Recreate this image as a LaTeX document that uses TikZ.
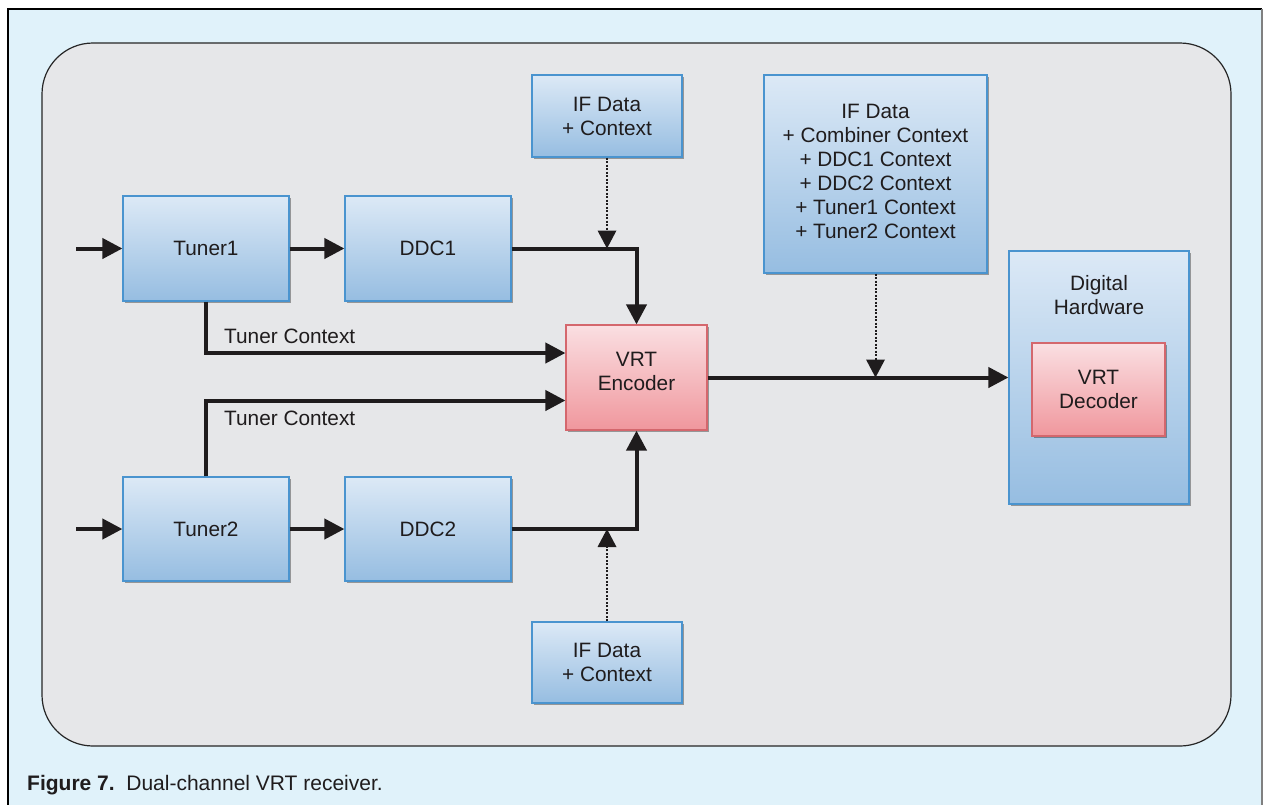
\documentclass[tikz,border=0pt]{standalone}
\usepackage{fontspec}
\setmainfont{Liberation Sans}
\usetikzlibrary{arrows.meta,shadows,calc}
\definecolor{bgblue}{HTML}{E0F2FA}
\definecolor{innergray}{HTML}{E6E7E9}
\definecolor{btop}{HTML}{DCE9F6}
\definecolor{bbot}{HTML}{96BDE1}
\definecolor{bborder}{HTML}{4A94CF}
\definecolor{rtop}{HTML}{FADFE2}
\definecolor{rbot}{HTML}{F0979D}
\definecolor{rborder}{HTML}{D4676D}
\definecolor{ink}{HTML}{1F1C1D}
\tikzset{
  txt/.style={font=\fontsize{20.8}{24}\selectfont, text=ink},
  bluebox/.style={draw=bborder, line width=1.2pt, top color=btop, bottom color=bbot,
    inner sep=0pt, align=center, txt,
    drop shadow={shadow xshift=1.5pt, shadow yshift=-2pt, opacity=0.35, fill=black}},
  redbox/.style={draw=rborder, line width=1.2pt, top color=rtop, bottom color=rbot,
    inner sep=0pt, align=center, txt,
    drop shadow={shadow xshift=1.5pt, shadow yshift=-2pt, opacity=0.35, fill=black}},
  conn/.style={draw=ink, line width=4pt, -{Triangle[length=20pt,width=20pt]}},
  dotconn/.style={draw=ink, line width=2pt, dash pattern=on 2pt off 1.5pt,
    -{Triangle[length=18pt,width=19pt,line width=0pt]}},
  lbl/.style={txt, inner sep=0pt}
}
\begin{document}
\begin{tikzpicture}[x=1pt,y=-1pt]
\useasboundingbox (0,0) rectangle (1263,804);
\fill[white] (0,0) rectangle (1263,804);
\fill[bgblue] (8,9) rectangle (1262,810);
\draw[black, line width=1.2pt] (8,810) -- (8,9) -- (1262,9);
\draw[gray, line width=1.2pt] (1262,9) -- (1262,810);
\draw[fill=innergray, draw=black!85, line width=1.2pt, rounded corners=51pt] (42,43) rectangle (1231,746);

% nodes
\node[bluebox, minimum width=166pt, minimum height=105pt] (tuner1) at (206,248.5) {Tuner1};
\node[bluebox, minimum width=166pt, minimum height=105pt] (ddc1) at (428,248.5) {DDC1};
\node[bluebox, minimum width=166pt, minimum height=104pt] (tuner2) at (206,529) {Tuner2};
\node[bluebox, minimum width=166pt, minimum height=104pt] (ddc2) at (428,529) {DDC2};
\node[bluebox, minimum width=150pt, minimum height=82pt] (iftop) at (607,116) {IF Data\\+ Context};
\node[bluebox, minimum width=150pt, minimum height=81pt] (ifbot) at (607,662.5) {IF Data\\+ Context};
\node[redbox, minimum width=141pt, minimum height=105pt] (enc) at (636.5,377.5) {};
\node[lbl, align=center] (enctext) at (636.5,371) {VRT\\Encoder};
\node[bluebox, minimum width=223pt, minimum height=198pt] (ifbig) at (875.5,174) {};
\node[lbl, align=center] (ifbigtext) at (875.5,171)
  {IF Data\\+ Combiner Context\\+ DDC1 Context\\+ DDC2 Context\\+ Tuner1 Context\\+ Tuner2 Context};
\node[bluebox, minimum width=180pt, minimum height=253pt] (dh) at (1099,377.5) {};
\node[lbl, align=center] (dhtext) at (1099,295) {Digital\\Hardware};
\node[redbox, minimum width=133pt, minimum height=93pt] (dec) at (1098.5,389.5) {VRT\\Decoder};

\coordinate (in1) at (76,248.5);
\coordinate (in2) at (76,529);

% connectors
\draw[conn] (in1) -- (tuner1.west);
\draw[conn] (in2) -- (tuner2.west);
\draw[conn] (tuner1.east) -- (ddc1.west);
\draw[conn] (tuner2.east) -- (ddc2.west);
\draw[conn] (ddc1.east) -| (enc.north);
\draw[conn] (ddc2.east) -| (enc.south);
\draw[conn] (tuner1.south) |- ([yshift=24.5pt]enc.west);
\draw[conn] (tuner2.north) |- ([yshift=-23pt]enc.west);
\draw[conn] (enc.east) -- (dh.west);
\draw[dotconn] (iftop.south) -- (iftop.south |- ddc1.east);
\draw[dotconn] (ifbot.north) -- (ifbot.north |- ddc2.east);
\draw[dotconn] (ifbig.south) -- (ifbig.south |- enc.east);

\node[lbl, anchor=west] (tc1) at (224,336) {Tuner Context};
\node[lbl, anchor=west] (tc2) at (224,418) {Tuner Context};

\node[anchor=base west, inner sep=0pt, font=\fontsize{21}{24}\selectfont, text=ink] (cap) at (27,790)
  {\textbf{Figure 7.}\ \ Dual-channel VRT receiver.};
\end{tikzpicture}
\end{document}
